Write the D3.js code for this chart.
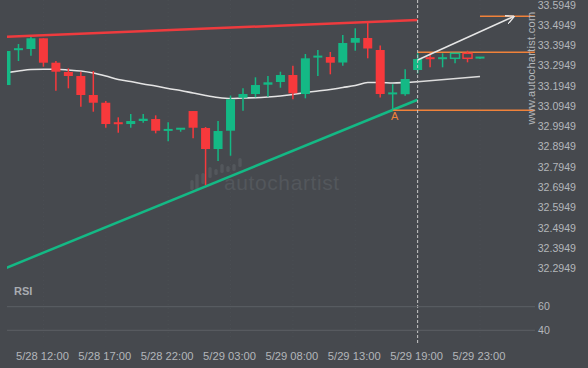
<!DOCTYPE html>
<html>
<head>
<meta charset="utf-8">
<script src="https://cdn.jsdelivr.net/npm/d3@7"></script>
<style>
  html, body { margin: 0; padding: 0; background: #46494e; }
  svg { display: block; font-family: "Liberation Sans", Arial, sans-serif; }
</style>
</head>
<body>
<div id="chart"></div>
<script>
// candles, hourly; index 33 (5/29 19:00) is the last real one, the rest is the forecast
const opens  = [33.1998,33.3755,33.3776,33.4305,33.3100,33.2640,33.2443,33.1505,33.1124,33.0112,
                33.0072,33.0221,33.0319,32.9771,32.9742,33.0714,32.9875,32.8838,32.9742,33.1371,
                33.1554,33.2013,33.2147,33.2492,33.1554,33.3391,33.3381,33.3109,33.4087,33.4319,
                33.3727,33.1574,33.1544,33.2739,33.3322,33.3312,33.3317,33.3564,33.3342];
const highs  = [33.3677,33.4023,33.4369,33.4305,33.3184,33.2823,33.2655,33.2690,33.1208,33.0403,
                33.0566,33.0566,33.0502,33.0156,32.9840,33.0714,32.9924,33.0221,33.1480,33.1835,
                33.2379,33.2443,33.2655,33.2951,33.3529,33.3727,33.3628,33.4468,33.4798,33.5060,
                33.3949,33.2038,33.2779,33.3564,33.3564,33.3564,33.3564,33.3692,33.3352];
const lows   = [33.1998,33.3184,33.3445,33.2902,33.1717,33.1835,33.0927,33.0680,32.9890,32.9643,
                32.9890,33.0137,32.9613,32.9218,32.9692,32.9366,32.7060,32.8245,32.8507,33.0729,
                33.1391,33.1421,33.1865,33.1292,33.1342,33.2443,33.2527,33.2951,33.3692,33.3317,
                33.1381,33.0749,33.1465,33.2576,33.2872,33.2872,33.3070,33.3119,33.3282];
const closes = [33.3677,33.3767,33.4305,33.3100,33.2655,33.2443,33.1505,33.1124,33.0072,33.0102,
                33.0221,33.0334,32.9742,32.9781,32.9840,32.9890,32.8838,32.9727,33.1292,33.1554,
                33.1998,33.2132,33.2492,33.1589,33.3317,33.3401,33.3100,33.4072,33.4319,33.3801,
                33.1554,33.1584,33.2295,33.3282,33.3312,33.3322,33.3564,33.3317,33.3352];

const movingAvg = [33.2606,33.2690,33.2764,33.2774,33.2774,33.2739,33.2690,33.2591,33.2443,33.2270,
                   33.2171,33.2048,33.1949,33.1826,33.1727,33.1603,33.1480,33.1381,33.1332,33.1356,
                   33.1371,33.1406,33.1455,33.1529,33.1628,33.1702,33.1776,33.1875,33.1974,33.2122,
                   33.2122,33.2097,33.2122,33.2161];
const movingAvgForecast = [[33, 33.2161], [38, 33.2418]];

const rsi = [47,50,53.3,50,50,46.7,46.7,46.7,46.7,46.7,50,50,50,53,55.6,53,50,53.3,53.3,53.3,
             53.3,53.3,53.3,50,53.3,53.3,50,53,55.6,53.3,53.3,56,56,59,56,56,56,56,59];

const timeLabels = [[3,"5/28 12:00"],[8,"5/28 17:00"],[13,"5/28 22:00"],[18,"5/29 03:00"],
                    [23,"5/29 08:00"],[28,"5/29 13:00"],[33,"5/29 19:00"],[38,"5/29 23:00"]];
const priceTicks = d3.range(14).map(i => +(32.2949 + i * 0.1).toFixed(4));
const rsiTicks = [40, 60];

// pattern lines (index, price)
const resistance = [[0, 33.4379], [33, 33.5208]];
const support = [[0, 32.2966], [33, 33.1272]];
const levels = [
  { from: 38, to: 42.4, price: 33.5390 },
  { from: 33, to: 42.4, price: 33.3613 },
  { from: 31, to: 42.4, price: 33.0749 }
];
const forecastArrow = [[33, 33.3233], [40.7, 33.5381]];
const pointA = { index: 31, price: 33.0749, label: "A" };
const lastRealIndex = 33;

const width = 588, height = 368;
const green = "#14b985", red = "#f7393c", orange = "#f0823a";
const textColor = "#b3b6ba";

const x = d3.scaleLinear().domain([0, 38]).range([6, 480]);
const y = d3.scaleLinear().domain([32.2949, 33.5949]).range([268.3, 5]);
const yr = d3.scaleLinear().domain([40, 60]).range([330.3, 306.7]);

const svg = d3.select("#chart").append("svg")
    .attr("width", width)
    .attr("height", height);

svg.append("rect").attr("width", width).attr("height", height).attr("fill", "#46494e");

const defs = svg.append("defs");
defs.append("clipPath").attr("id", "plot")
  .append("rect").attr("x", 7).attr("y", 0).attr("width", 528).attr("height", 278);
defs.append("marker")
    .attr("id", "arrowhead")
    .attr("viewBox", "0 0 10 10")
    .attr("refX", 9).attr("refY", 5)
    .attr("markerWidth", 9).attr("markerHeight", 9)
    .attr("markerUnits", "userSpaceOnUse")
    .attr("orient", "auto")
  .append("path")
    .attr("d", "M0,0 L10,5 L0,10")
    .attr("fill", "none")
    .attr("stroke", "#e6e6e6")
    .attr("stroke-width", 1.5);

// faint vertical grid
svg.append("g").selectAll("line")
  .data(timeLabels)
  .join("line")
    .attr("x1", d => x(d[0])).attr("x2", d => x(d[0]))
    .attr("y1", 0).attr("y2", 340)
    .attr("stroke", "#4b4f54")
    .attr("stroke-dasharray", "1,3");

// watermark
const logoBars = [[192,180,190],[197,174,190],[203,173,184],[210,167,178],[216,169,175],
                  [222,164,173],[228,166,172],[234,164,171],[240,158,167]];
svg.append("g").selectAll("rect")
  .data(logoBars)
  .join("rect")
    .attr("x", d => d[0] - 1.7).attr("y", d => d[1])
    .attr("width", 3.4).attr("height", d => d[2] - d[1])
    .attr("rx", 1.5)
    .attr("fill", "#53575c");
svg.append("text")
    .attr("x", 224).attr("y", 190)
    .attr("font-size", 21)
    .attr("letter-spacing", 0.6)
    .attr("fill", "#53575c")
    .text("autochartist");

const plot = svg.append("g").attr("clip-path", "url(#plot)");

// trend lines
const line = d3.line().x(d => x(d[0])).y(d => y(d[1]));
plot.append("path").attr("d", line(resistance))
    .attr("stroke", "#ee3b3e").attr("stroke-width", 2.5).attr("fill", "none");
plot.append("path").attr("d", line(support))
    .attr("stroke", green).attr("stroke-width", 2.5).attr("fill", "none");

// moving average
plot.append("path")
    .attr("d", d3.line().x((d, i) => x(i)).y(d => y(d)).curve(d3.curveMonotoneX)(movingAvg))
    .attr("stroke", "#e4e4e4").attr("stroke-width", 1.6).attr("fill", "none");
plot.append("path").attr("d", line(movingAvgForecast))
    .attr("stroke", "#dcdcdc").attr("stroke-width", 1.6).attr("fill", "none");

// level lines
plot.selectAll(".level")
  .data(levels)
  .join("line")
    .attr("class", "level")
    .attr("x1", d => x(d.from)).attr("x2", d => x(d.to))
    .attr("y1", d => y(d.price)).attr("y2", d => y(d.price))
    .attr("stroke", orange).attr("stroke-width", 1.5);

// candles
const candles = opens.map((o, i) => ({ i, o, h: highs[i], l: lows[i], c: closes[i] }));
const bodyW = 9;
const isHollow = d => d.i > lastRealIndex && Math.abs(y(d.o) - y(d.c)) > 3;
const candle = plot.selectAll(".candle")
  .data(candles)
  .join("g")
    .attr("class", "candle");

candle.append("line")
    .attr("x1", d => x(d.i)).attr("x2", d => x(d.i))
    .attr("y1", d => y(d.h)).attr("y2", d => y(d.l))
    .attr("stroke", d => d.c >= d.o ? green : red)
    .attr("stroke-width", 1.5);

candle.append("rect")
    .attr("x", d => x(d.i) - bodyW / 2)
    .attr("width", bodyW)
    .attr("y", d => Math.min(y(d.o), y(d.c)) - (Math.abs(y(d.o) - y(d.c)) < 2 ? 1 : 0))
    .attr("height", d => Math.max(2, Math.abs(y(d.o) - y(d.c))))
    .attr("fill", d => isHollow(d) ? "#46494e" : (d.c >= d.o ? green : red))
    .attr("stroke", d => isHollow(d) ? (d.c >= d.o ? green : red) : "none")
    .attr("stroke-width", 1.5);

// forecast arrow
plot.append("path").attr("d", line(forecastArrow))
    .attr("stroke", "#e6e6e6").attr("stroke-width", 1.5).attr("fill", "none")
    .attr("marker-end", "url(#arrowhead)");

// point A
svg.append("text")
    .attr("x", x(pointA.index) + 2).attr("y", y(pointA.price) + 10)
    .attr("text-anchor", "middle")
    .attr("font-size", 11)
    .attr("fill", orange)
    .text(pointA.label);

// now marker
svg.append("line")
    .attr("x1", x(lastRealIndex)).attr("x2", x(lastRealIndex))
    .attr("y1", 0).attr("y2", 345)
    .attr("stroke", "#c8c8c8").attr("stroke-width", 1)
    .attr("stroke-dasharray", "3,2");

// price axis
svg.append("g").selectAll("text")
  .data(priceTicks)
  .join("text")
    .attr("x", 576).attr("y", d => y(d))
    .attr("dy", "0.35em")
    .attr("text-anchor", "end")
    .attr("font-size", 10.6)
    .attr("fill", textColor)
    .text(d => d.toFixed(4));

svg.append("text")
    .attr("transform", "translate(535,68) rotate(-90)")
    .attr("text-anchor", "middle")
    .attr("font-size", 11)
    .attr("letter-spacing", 0.3)
    .attr("fill", textColor)
    .text("www.autochartist.com");

// RSI panel
svg.append("text")
    .attr("x", 14).attr("y", 295)
    .attr("font-size", 11)
    .attr("font-weight", "bold")
    .attr("fill", "#a9acb1")
    .text("RSI");

svg.append("g").selectAll("line")
  .data(rsiTicks)
  .join("line")
    .attr("x1", 7).attr("x2", 535)
    .attr("y1", d => yr(d)).attr("y2", d => yr(d))
    .attr("stroke", "#5c6065").attr("stroke-width", 1);

svg.append("g").selectAll("text")
  .data(rsiTicks)
  .join("text")
    .attr("x", 538).attr("y", d => yr(d))
    .attr("dy", "0.35em")
    .attr("font-size", 10.6)
    .attr("fill", textColor)
    .text(d => d);

svg.append("path")
    .attr("clip-path", "url(#plot)")
    .attr("d", d3.line().x((d, i) => x(i)).y(d => yr(d))(rsi))
    .attr("stroke", "#ececec").attr("stroke-width", 1.3).attr("fill", "none");

// time axis
svg.append("g").selectAll("text")
  .data(timeLabels)
  .join("text")
    .attr("x", d => x(d[0]) - 1).attr("y", 356)
    .attr("dy", "0.35em")
    .attr("text-anchor", "middle")
    .attr("font-size", 11.2)
    .attr("fill", textColor)
    .text(d => d[1]);
</script>
</body>
</html>
